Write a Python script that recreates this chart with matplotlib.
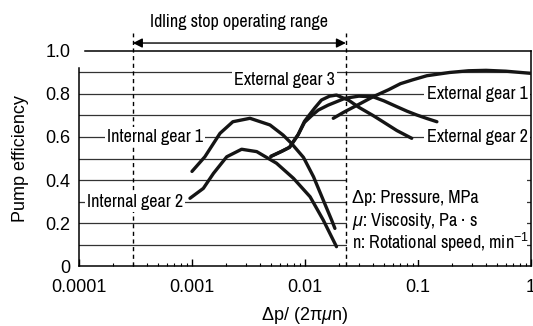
import matplotlib
matplotlib.use("Agg")
import matplotlib.pyplot as plt
from matplotlib.patches import Rectangle

plt.rcParams['font.family'] = ['Liberation Sans', 'DejaVu Sans']
plt.rcParams['mathtext.fontset'] = 'custom'
plt.rcParams['mathtext.rm'] = 'Liberation Sans'
plt.rcParams['mathtext.it'] = 'Liberation Sans:italic'

NARROW = ['Liberation Sans Narrow', 'Archivo Narrow', 'Liberation Sans', 'DejaVu Sans']

# curves: x = dp/(2 pi mu n), y = pump efficiency
int1_x = [0.00100, 0.00130, 0.00177, 0.0023, 0.00326, 0.0049, 0.0064, 0.0076, 0.0097, 0.0119, 0.0145, 0.0172, 0.0184]
int1_y = [0.44, 0.508, 0.617, 0.671, 0.687, 0.656, 0.609, 0.57, 0.505, 0.415, 0.307, 0.214, 0.175]

int2_x = [0.00096, 0.00126, 0.00155, 0.00203, 0.00275, 0.00374, 0.0056, 0.0079, 0.0111, 0.0145, 0.019]
int2_y = [0.315, 0.361, 0.431, 0.508, 0.543, 0.532, 0.478, 0.408, 0.322, 0.214, 0.09]

ext1_x = [0.0178, 0.022, 0.026, 0.030, 0.040, 0.055, 0.070, 0.090, 0.12, 0.19, 0.28, 0.40, 0.60, 1.0]
ext1_y = [0.687, 0.715, 0.735, 0.752, 0.787, 0.82, 0.848, 0.866, 0.885, 0.90, 0.908, 0.91, 0.906, 0.896]

ext2_x = [0.0050, 0.0062, 0.0073, 0.0087, 0.0099, 0.0122, 0.0140, 0.0165, 0.019, 0.0245, 0.030, 0.040, 0.050, 0.065, 0.088]
ext2_y = [0.51, 0.533, 0.552, 0.611, 0.673, 0.735, 0.772, 0.79, 0.795, 0.77, 0.738, 0.70, 0.668, 0.63, 0.594]

ext3_x = [0.0050, 0.0062, 0.0073, 0.0087, 0.0099, 0.0115, 0.0131, 0.016, 0.0226, 0.030, 0.040, 0.050, 0.065, 0.080, 0.098, 0.12, 0.147]
ext3_y = [0.51, 0.533, 0.552, 0.611, 0.668, 0.70, 0.725, 0.748, 0.78, 0.79, 0.787, 0.768, 0.741, 0.72, 0.702, 0.686, 0.671]

x_ticks = [0.0001, 0.001, 0.01, 0.1, 1]
x_ticklabels = ['0.0001', '0.001', '0.01', '0.1', '1']
y_ticks = [0, 0.2, 0.4, 0.6, 0.8, 1.0]
y_ticklabels = ['0', '0.2', '0.4', '0.6', '0.8', '1.0']
grid_y = [0.1, 0.2, 0.3, 0.4, 0.5, 0.6, 0.7, 0.8, 0.9]

idle_range = [0.0003, 0.023]

fig = plt.figure(figsize=(5.33, 3.26), dpi=100)
ax = fig.add_axes([0.1482, 0.184, 0.8480, 0.6596])
ax.set_xscale('log')
ax.set_xlim(1e-4, 1)
ax.set_ylim(0, 1.0)

for g in grid_y:
    ax.axhline(g, color='#333333', lw=0.9, zorder=1)

# top line starts a little right of the left spine
ax.plot([1.13e-4, 1], [1.0, 1.0], color='black', lw=1.1, clip_on=False, zorder=2)
ax.spines['top'].set_visible(False)
ax.spines['left'].set_bounds(0, 0.92)
for s in ['left', 'right', 'bottom']:
    ax.spines[s].set_linewidth(1.1)

# white panel under the legend text
ax.add_patch(Rectangle((0.0236, 0.03), 0.93 - 0.0236, 0.415, facecolor='white',
                       edgecolor='none', zorder=2))

for xv in idle_range:
    ax.plot([xv, xv], [0, 1.085], color='black', lw=1.0, ls=(0, (3, 2.5)),
            clip_on=False, zorder=3)
ax.annotate('', xy=(idle_range[0], 1.037), xytext=(idle_range[1], 1.037),
            xycoords='data', annotation_clip=False,
            arrowprops=dict(arrowstyle='<|-|>', color='black', lw=1.0,
                            mutation_scale=14, shrinkA=0, shrinkB=0))
ax.text(0.0026, 1.135, 'Idling stop operating range', ha='center', va='center',
        fontsize=13, family=NARROW, transform=ax.transData, clip_on=False)

curve_kw = dict(color='#151515', lw=2.4, solid_capstyle='round',
                solid_joinstyle='round', zorder=5)
for cx, cy in [(int1_x, int1_y), (int2_x, int2_y), (ext1_x, ext1_y),
               (ext2_x, ext2_y), (ext3_x, ext3_y)]:
    ax.plot(cx, cy, **curve_kw)

lab_kw = dict(ha='center', va='center', fontsize=13, family=NARROW, zorder=6,
              bbox=dict(facecolor='white', edgecolor='none', pad=1.5))
ax.text(0.000471, 0.6, 'Internal gear 1', **lab_kw)
ax.text(0.000313, 0.3, 'Internal gear 2', **lab_kw)
ax.text(0.00659, 0.865, 'External gear 3', **lab_kw)
ax.text(0.333, 0.8, 'External gear 1', **lab_kw)
ax.text(0.333, 0.6, 'External gear 2', **lab_kw)

leg_kw = dict(ha='left', va='center', fontsize=13, family=NARROW, zorder=6)
ax.text(0.026, 0.316, 'Δp: Pressure, MPa', **leg_kw)
ax.text(0.026, 0.206, r'$\mu$: Viscosity, Pa · s', **leg_kw)
ax.text(0.026, 0.108, r'n: Rotational speed, min$^{-1}$', **leg_kw)

ax.set_xticks(x_ticks)
ax.set_xticklabels(x_ticklabels)
ax.set_yticks(y_ticks)
ax.set_yticklabels(y_ticklabels)
ax.tick_params(axis='x', which='major', direction='in', length=5, width=1.0,
               pad=9, labelsize=13)
ax.tick_params(axis='x', which='minor', direction='in', length=2.5, width=0.8)
ax.tick_params(axis='y', length=0, pad=6, labelsize=13)

ax.set_ylabel('Pump efficiency', fontsize=13)
ax.yaxis.set_label_coords(-0.11, 0.5)
ax.set_xlabel(r'Δp/ (2π$\mu$n)', fontsize=13)
ax.xaxis.set_label_coords(0.5, -0.18)

fig.savefig('out.png', dpi=100)
